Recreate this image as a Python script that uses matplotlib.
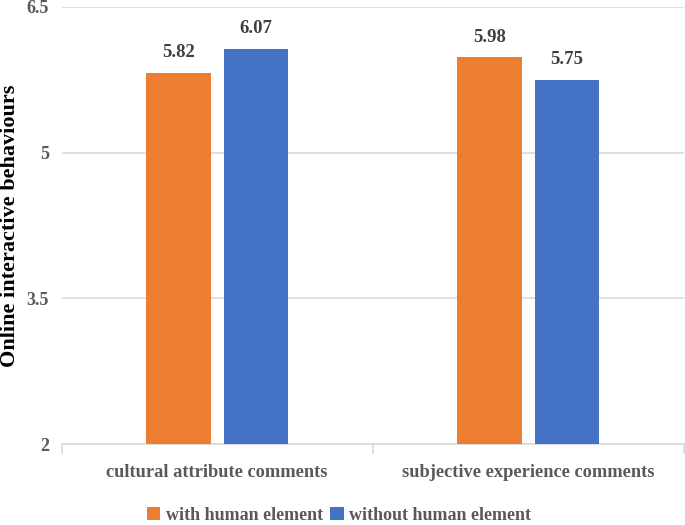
import numpy as np
import matplotlib.pyplot as plt

categories = ['cultural attribute comments', 'subjective experience comments']
with_human = [5.82, 5.98]
without_human = [6.07, 5.75]
series_names = ['with human element', 'without human element']
yticks = [2, 3.5, 5, 6.5]

plt.rcParams['font.family'] = ['Liberation Serif', 'DejaVu Serif']
plt.rcParams['font.weight'] = 'bold'

fig = plt.figure(figsize=(6.85, 5.25), dpi=100)
ax = fig.add_axes([0.0898, 0.154, 0.9082, 0.8327])

x = np.arange(len(categories))
w = 0.206
off = 0.124
b1 = ax.bar(x - off, np.array(with_human) - 2, w, bottom=2, color='#ED7D31', label=series_names[0], zorder=3)
b2 = ax.bar(x + off, np.array(without_human) - 2, w, bottom=2, color='#4472C4', label=series_names[1], zorder=3)

for bars, vals in [(b1, with_human), (b2, without_human)]:
    for r, v in zip(bars, vals):
        ax.text(r.get_x() + r.get_width() / 2, v + 0.12, f'{v:.2f}', ha='center', va='bottom',
                fontsize=13.5, fontweight='bold', color='#404040')

ax.set_xlim(-0.5, 1.5)
ax.set_ylim(2, 6.5)
ax.set_yticks(yticks)
ax.set_yticklabels(['2', '3.5', '5', '6.5'])
ax.yaxis.grid(True, color='#D9D9D9', linewidth=1.2, zorder=0)
ax.tick_params(axis='y', length=0, labelsize=13, labelcolor='#595959', pad=9)

ax.set_xticks(x)
ax.set_xticklabels(categories)
ax.tick_params(axis='x', length=0, labelsize=13.2, labelcolor='#595959', pad=14)
ax.set_xticks([-0.5, 0.5, 1.5], minor=True)
ax.tick_params(axis='x', which='minor', length=7, color='#D9D9D9', width=1.2)

for s in ['top', 'right', 'left']:
    ax.spines[s].set_visible(False)
ax.spines['bottom'].set_color('#D9D9D9')
ax.spines['bottom'].set_linewidth(1.2)

ax.set_ylabel('Online interactive behaviours', fontsize=16, fontweight='bold', color='black')
ax.yaxis.set_label_coords(-0.066, 0.5)

fig.legend(loc='center', bbox_to_anchor=(0.495, 0.019), ncol=2, frameon=False,
           fontsize=13, handlelength=0.75, handleheight=0.75, handletextpad=0.3, columnspacing=0.4,
           labelcolor='#595959')

fig.savefig('out.png', dpi=100)
